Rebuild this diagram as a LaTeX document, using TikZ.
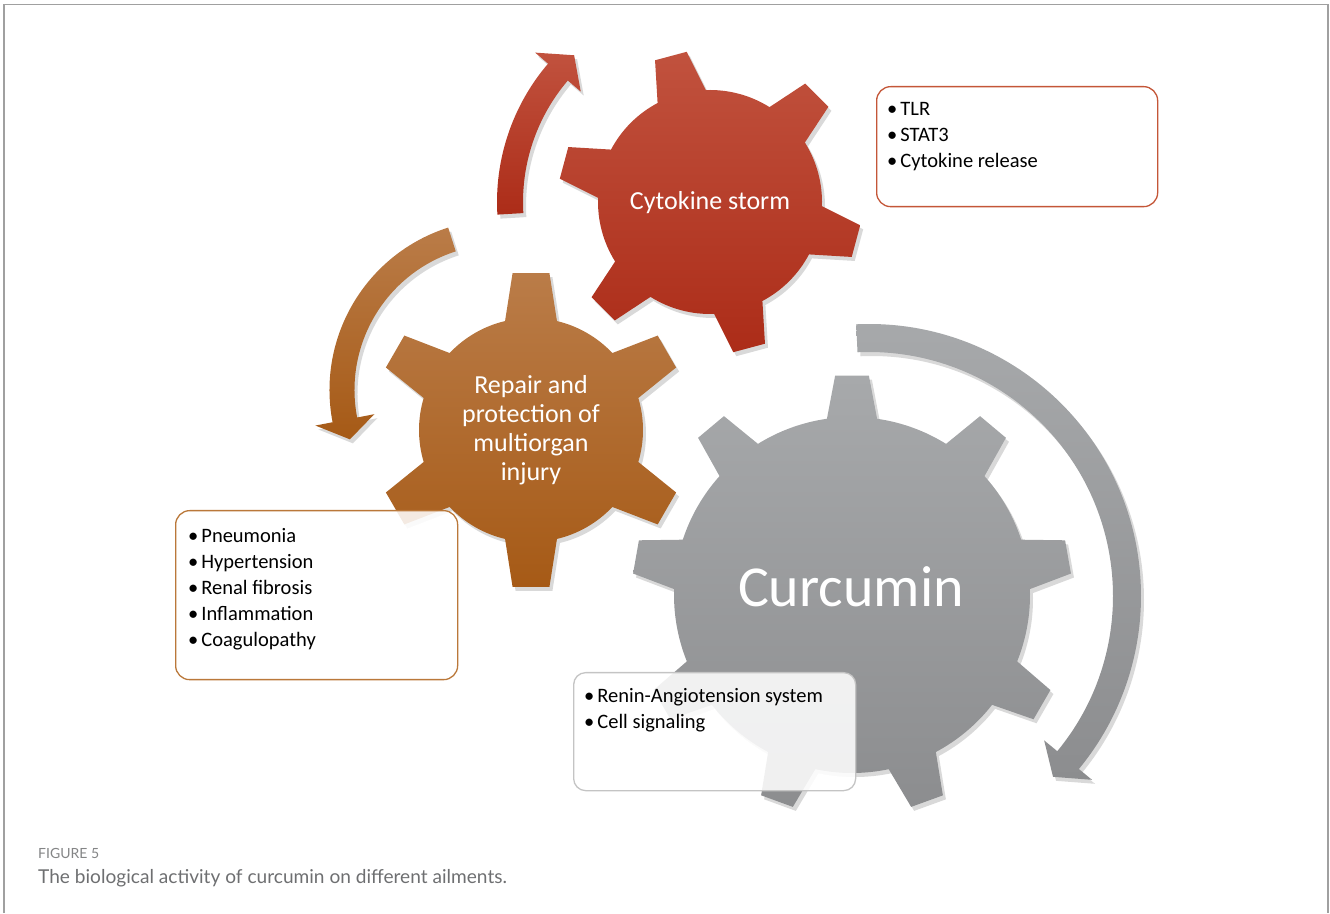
\documentclass[tikz,border=0pt]{standalone}
\usepackage{fontspec}
\setmainfont{Carlito}
\newfontfamily\captionfont{Lato}
\usetikzlibrary{positioning,shadows}

\definecolor{stormtop}{RGB}{193,82,62}
\definecolor{stormbot}{RGB}{172,44,24}
\definecolor{repairtop}{RGB}{186,124,72}
\definecolor{repairbot}{RGB}{166,90,22}
\definecolor{curctop}{RGB}{167,169,171}
\definecolor{curcbot}{RGB}{140,141,143}
\definecolor{stormline}{RGB}{196,86,56}
\definecolor{repairline}{RGB}{186,120,58}
\definecolor{curcline}{RGB}{196,196,196}
\definecolor{framegray}{RGB}{160,160,160}
\definecolor{captiongray}{RGB}{110,111,113}

% cog: centre, body radius, outer radius, teeth, first tooth angle, base half angle, tip half angle, style
\newcommand{\cog}[8]{%
  \begin{scope}[shift={#1}]
    \pgfmathsetmacro\cogstep{360/#4}
    \path[#8] ({#5-#6}:#2)
      \foreach \k in {1,...,#4}{
        -- ({#5+(\k-1)*\cogstep-#7}:#3) -- ({#5+(\k-1)*\cogstep+#7}:#3)
        -- ({#5+(\k-1)*\cogstep+#6}:#2)
        arc[start angle={#5+(\k-1)*\cogstep+#6}, end angle={#5+\k*\cogstep-#6}, radius=#2]
      } -- cycle;
  \end{scope}}

% bent arrow: centre, mid radius, half width, tail angle, head angle, tip angle, head half width, style
\newcommand{\bentarrow}[8]{%
  \begin{scope}[shift={#1}]
    \pgfmathsetmacro\arrout{#2+#3}\pgfmathsetmacro\arrin{#2-#3}
    \pgfmathsetmacro\barbout{#2+#7}\pgfmathsetmacro\barbin{#2-#7}
    \path[#8] (#4:\arrout) arc[start angle=#4, end angle=#5, radius=\arrout]
      -- (#5:\barbout) -- (#6:#2) -- (#5:\barbin) -- (#5:\arrin)
      arc[start angle=#5, end angle=#4, radius=\arrin] -- cycle;
  \end{scope}}

\begin{document}
\begin{tikzpicture}[x=1pt, y=1pt,
    softshadow/.style={drop shadow={shadow xshift=3pt, shadow yshift=-4pt, opacity=0.15, fill=black}},
    stormfill/.style={top color=stormtop, bottom color=stormbot, softshadow},
    repairfill/.style={top color=repairtop, bottom color=repairbot, softshadow},
    curcfill/.style={top color=curctop, bottom color=curcbot, softshadow},
    gearlabel/.style={text=white, font=\fontsize{26}{29}\selectfont, align=center, inner sep=0pt},
    listbox/.style={rectangle, rounded corners=14pt, line width=1.3pt, fill=white, fill opacity=0.87,
      draw opacity=1, anchor=north west, inner sep=0pt},
    listtext/.style={font=\fontsize{20.5}{26}\selectfont, align=left, inner sep=0pt, text=black}]

  \useasboundingbox (0,0) rectangle (1330,913);

  % arrows and gears
  \bentarrow{(710,711)}{200}{13}{183.4}{139.5}{132.8}{30}{stormfill}
  \cog{(710,711)}{112}{152}{6}{45}{12.9}{6.2}{stormfill}
  \bentarrow{(500,523)}{158}{12.5}{107.7}{190.9}{198.2}{30}{repairfill}
  \cog{(531,483)}{112}{158}{6}{30}{13.4}{6.7}{repairfill}
  \bentarrow{(869,317)}{258}{14}{92.7}{-39.5}{-44.5}{31}{curcfill}
  \cog{(852,318)}{178}{220}{9}{90}{8.1}{4.4}{curcfill}

  \node[gearlabel, anchor=base] (storm) at (710,703) {Cytokine storm};
  \node[gearlabel] (repair) at (531,483) {Repair and\\protection of\\multiorgan\\injury};
  \node[gearlabel, font=\fontsize{58}{64}\selectfont, anchor=base] (curcumin) at (851,306) {Curcumin};

  % bullet boxes
  \node[listbox, draw=stormline, minimum width=281pt, minimum height=120pt] (tlrbox) at (876,827) {};
  \node[listtext, below right=15.7pt and 11pt of tlrbox.north west] (tlrlist)
    {•\hspace{3pt}TLR\\•\hspace{3pt}STAT3\\•\hspace{3pt}Cytokine release};

  \node[listbox, draw=repairline, minimum width=282pt, minimum height=169pt] (ailbox) at (175,403) {};
  \node[listtext, below right=18.3pt and 13pt of ailbox.north west] (aillist)
    {•\hspace{3pt}Pneumonia\\•\hspace{3pt}Hypertension\\•\hspace{3pt}Renal fibrosis\\•\hspace{3pt}Inflammation\\•\hspace{3pt}Coagulopathy};

  \node[listbox, draw=curcline, rounded corners=12pt, minimum width=282pt, minimum height=118pt] (rasbox) at (573,241) {};
  \node[listtext, below right=16.3pt and 11pt of rasbox.north west] (raslist)
    {•\hspace{3pt}Renin-Angiotension system\\•\hspace{3pt}Cell signaling};

  % caption
  \node[anchor=base west, inner sep=0pt, text=captiongray!85, font=\captionfont\fontsize{14}{16}\selectfont] (figno) at (38,55) {FIGURE 5};
  \node[anchor=base west, inner sep=0pt, text=captiongray, font=\captionfont\fontsize{19.1}{22}\selectfont] (figcap) at (38,30)
    {The biological activity of curcumin on different ailments.};

  % frame
  \draw[framegray, line width=1.3pt] (4,0) -- (4,908.3) -- (1328,908.3) -- (1328,0);
\end{tikzpicture}
\end{document}
